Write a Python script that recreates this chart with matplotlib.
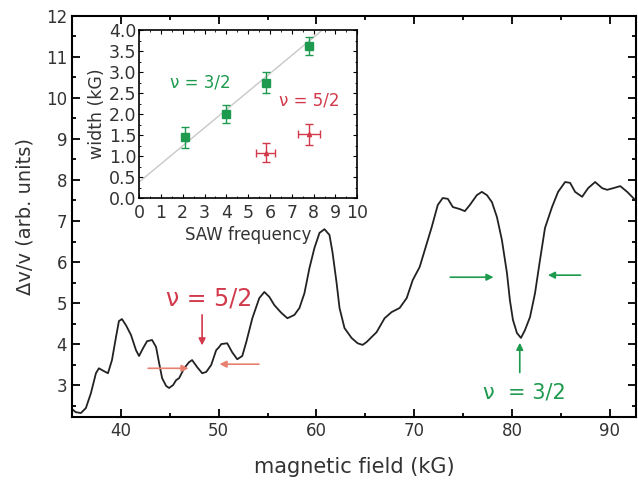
import matplotlib.pyplot as plt
from matplotlib.ticker import MultipleLocator

# main trace
field = [34.87, 35.38, 35.90, 36.41, 36.92, 37.44, 37.74, 38.26, 38.67, 39.08,
         39.49, 39.79, 40.10, 40.51, 41.03, 41.54, 41.85, 42.26, 42.67, 43.18,
         43.59, 43.90, 44.21, 44.62, 44.92, 45.33, 45.64, 45.95, 46.46, 46.97,
         47.28, 47.79, 48.31, 48.72, 49.23, 49.74, 50.05, 50.26, 50.87, 51.38,
         51.90, 52.41, 52.82, 53.44, 54.15, 54.67, 55.18, 55.69, 56.41, 57.03,
         57.74, 58.26, 58.77, 59.28, 59.79, 60.31, 60.82, 61.33, 61.64, 62.05,
         62.36, 62.87, 63.59, 64.21, 64.72, 65.13, 66.15, 66.97, 67.69, 68.51,
         69.23, 69.85, 70.56, 71.08, 71.79, 72.41, 72.92, 73.44, 73.95, 74.67,
         75.18, 75.69, 76.41, 76.92, 77.44, 77.95, 78.46, 78.97, 79.49, 79.79,
         80.10, 80.51, 80.92, 81.33, 81.85, 82.36, 82.87, 83.38, 84.10, 84.72,
         85.44, 85.95, 86.46, 87.18, 87.79, 88.51, 89.23, 89.74, 90.36, 91.08,
         91.79, 92.41, 92.92]
dvv = [2.44, 2.34, 2.32, 2.44, 2.80, 3.29, 3.41, 3.34, 3.29, 3.61,
       4.17, 4.56, 4.61, 4.46, 4.22, 3.85, 3.71, 3.90, 4.07, 4.10,
       3.93, 3.54, 3.17, 2.98, 2.93, 3.00, 3.12, 3.17, 3.41, 3.56,
       3.61, 3.44, 3.29, 3.32, 3.49, 3.85, 3.93, 4.00, 4.02, 3.80,
       3.63, 3.71, 4.05, 4.63, 5.12, 5.27, 5.15, 4.95, 4.76, 4.63,
       4.71, 4.88, 5.24, 5.85, 6.34, 6.71, 6.80, 6.66, 6.24, 5.51,
       4.88, 4.39, 4.15, 4.02, 3.98, 4.05, 4.29, 4.63, 4.78, 4.88,
       5.12, 5.56, 5.88, 6.29, 6.85, 7.39, 7.56, 7.54, 7.34, 7.29,
       7.24, 7.39, 7.63, 7.71, 7.63, 7.46, 7.10, 6.54, 5.73, 5.07,
       4.59, 4.27, 4.15, 4.34, 4.66, 5.24, 6.05, 6.83, 7.34, 7.71,
       7.95, 7.93, 7.71, 7.59, 7.80, 7.95, 7.80, 7.76, 7.80, 7.85,
       7.71, 7.56, 7.44]

# inset data
freq_32 = [2.1, 4.0, 5.8, 7.8]
width_32 = [1.45, 2.0, 2.75, 3.62]
err_32 = [0.25, 0.22, 0.25, 0.22]
freq_52 = [5.8, 7.8]
width_52 = [1.08, 1.52]
yerr_52 = [0.22, 0.25]
xerr_52 = [0.45, 0.5]
fit_x = [0.0, 8.4]
fit_y = [0.38, 4.0]

green = '#1e9a4e'
red = '#d23a4c'
red_light = '#e8806f'
tick_col = '#333333'

fig = plt.figure(figsize=(6.38, 4.8), dpi=100)
ax = fig.add_axes([0.113, 0.131, 0.884, 0.836])
ax.plot(field, dvv, color='#222222', lw=1.3)
ax.set_xlim(35, 92.7)
ax.set_ylim(2.22, 12)
ax.xaxis.set_major_locator(MultipleLocator(10))
ax.xaxis.set_minor_locator(MultipleLocator(5))
ax.yaxis.set_major_locator(MultipleLocator(1))
ax.yaxis.set_minor_locator(MultipleLocator(0.5))
ax.tick_params(which='both', direction='in', top=True, right=True,
               labelsize=12, labelcolor=tick_col, width=1.3)
ax.tick_params(which='major', length=6)
ax.tick_params(which='minor', length=3)
for s in ax.spines.values():
    s.set_linewidth(1.5)
ax.set_xlabel('magnetic field (kG)', fontsize=15, color=tick_col, labelpad=12)
ax.set_ylabel('\u0394v/v (arb. units)', fontsize=14, color=tick_col, labelpad=8)

# nu = 5/2 marks
ax.text(49.0, 5.12, '\u03bd = 5/2', color=red, fontsize=17, ha='center', va='center')
ax.annotate('', xy=(48.3, 3.9), xytext=(48.3, 4.78),
            arrowprops=dict(arrowstyle='-|>', color=red, lw=1.2, mutation_scale=10))
ax.annotate('', xy=(47.2, 3.41), xytext=(42.5, 3.41),
            arrowprops=dict(arrowstyle='-|>', color=red_light, lw=1.2, mutation_scale=10))
ax.annotate('', xy=(49.8, 3.51), xytext=(54.4, 3.51),
            arrowprops=dict(arrowstyle='-|>', color=red_light, lw=1.2, mutation_scale=10))

# nu = 3/2 marks
ax.text(81.3, 2.83, '\u03bd  = 3/2', color=green, fontsize=15, ha='center', va='center')
ax.annotate('', xy=(80.8, 4.1), xytext=(80.8, 3.24),
            arrowprops=dict(arrowstyle='-|>', color=green, lw=1.2, mutation_scale=10))
ax.annotate('', xy=(78.4, 5.63), xytext=(73.4, 5.63),
            arrowprops=dict(arrowstyle='-|>', color=green, lw=1.2, mutation_scale=10))
ax.annotate('', xy=(83.4, 5.68), xytext=(87.3, 5.68),
            arrowprops=dict(arrowstyle='-|>', color=green, lw=1.2, mutation_scale=10))

# inset
ins = fig.add_axes([0.218, 0.5875, 0.342, 0.35])
ins.plot(fit_x, fit_y, color='#c8c8c8', lw=1)
ins.errorbar(freq_32, width_32, yerr=err_32, fmt='s', color=green, ms=6,
             capsize=3, elinewidth=1, capthick=1)
ins.errorbar(freq_52, width_52, yerr=yerr_52, xerr=xerr_52, fmt='^', color=red,
             ms=3, capsize=3, elinewidth=1, capthick=1)
ins.text(2.8, 2.74, '\u03bd = 3/2', color=green, fontsize=12, ha='center', va='center')
ins.text(7.8, 2.33, '\u03bd = 5/2', color=red, fontsize=12, ha='center', va='center')
ins.set_xlim(0, 10)
ins.set_ylim(0, 4)
ins.xaxis.set_major_locator(MultipleLocator(1))
ins.xaxis.set_minor_locator(MultipleLocator(0.5))
ins.yaxis.set_major_locator(MultipleLocator(0.5))
ins.yaxis.set_minor_locator(MultipleLocator(0.25))
ins.tick_params(which='both', direction='in', top=True, right=True,
                labelsize=12.5, labelcolor=tick_col)
ins.tick_params(axis='x', pad=4)
ins.tick_params(axis='y', pad=2)
ins.tick_params(which='major', length=3)
ins.tick_params(which='minor', length=1.5)
for s in ins.spines.values():
    s.set_linewidth(1.2)
ins.set_xlabel('SAW frequency', fontsize=12, color=tick_col, labelpad=3)
ins.set_ylabel('width (kG)', fontsize=12.5, color=tick_col, labelpad=2)

fig.savefig('out.png', dpi=100)
